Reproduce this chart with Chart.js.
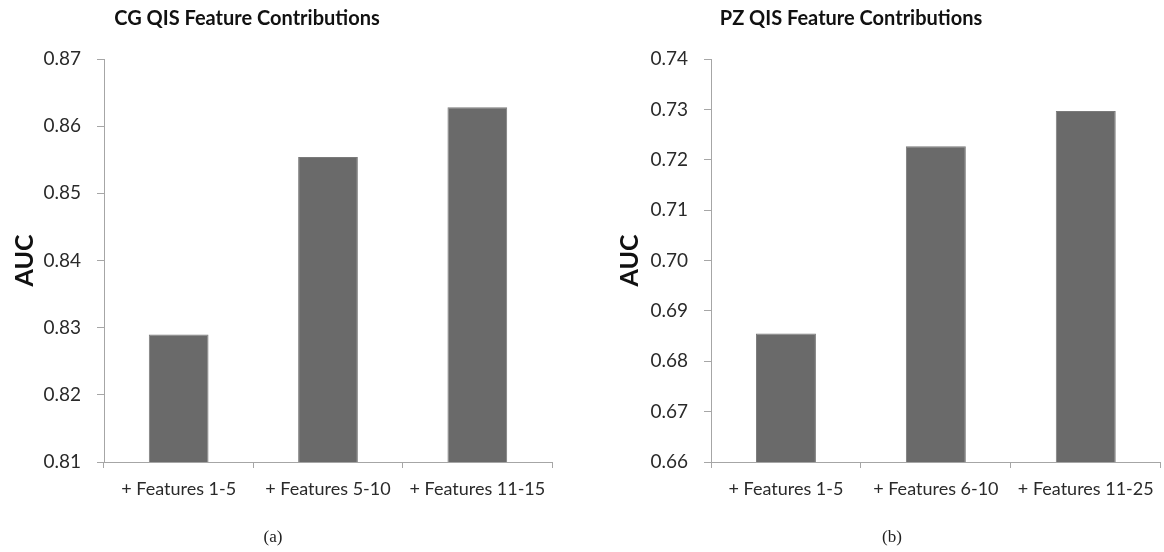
<!DOCTYPE html>
<html>
<head>
<meta charset="utf-8">
<script src="https://cdn.jsdelivr.net/npm/chart.js@4"></script>
<style>
  html, body { margin: 0; padding: 0; background: #fff; }
  #wrap { position: relative; width: 1164px; height: 552px; overflow: hidden; }
  canvas { position: absolute; top: 0; }
  .title { position: absolute; top: 5px; font: bold 20px Lato, sans-serif; color: #111; transform: translateX(-50%); white-space: nowrap; }
  .cap { position: absolute; top: 527px; font: 17px "Liberation Serif", serif; color: #222; transform: translateX(-50%); }
</style>
</head>
<body>
<div id="wrap">
  <canvas id="cg" width="580" height="552" style="left:0"></canvas>
  <canvas id="pz" width="584" height="552" style="left:580px"></canvas>
  <div class="title" style="left:247px">CG QIS Feature Contributions</div>
  <div class="title" style="left:851px">PZ QIS Feature Contributions</div>
  <div class="cap" style="left:273px">(a)</div>
  <div class="cap" style="left:892px">(b)</div>
</div>
<script>
// CG panel
const cgCategories = ['+ Features 1-5', '+ Features 5-10', '+ Features 11-15'];
const cgAuc = [0.829, 0.8554, 0.8628];
const cgAxis = { min: 0.81, max: 0.87, step: 0.01 };

// PZ panel
const pzCategories = ['+ Features 1-5', '+ Features 6-10', '+ Features 11-25'];
const pzAuc = [0.6855, 0.7227, 0.7297];
const pzAxis = { min: 0.66, max: 0.74, step: 0.01 };

const BAR = '#6a6a6a';
const AXIS = '#a6a6a6';
const TEXT = '#2a2a2a';

function makeChart(id, labels, values, axis, padLeft, yWidth, padRight) {
  return new Chart(document.getElementById(id), {
    type: 'bar',
    data: {
      labels: labels,
      datasets: [{
        data: values,
        backgroundColor: BAR,
        borderColor: '#7a7a7a',
        borderWidth: 1,
        categoryPercentage: 1,
        barPercentage: 0.4
      }]
    },
    options: {
      responsive: false,
      animation: false,
      devicePixelRatio: 1,
      layout: { padding: { left: padLeft, right: padRight, top: 59, bottom: 50 } },
      plugins: { legend: { display: false }, tooltip: { enabled: false } },
      scales: {
        x: {
          grid: { drawOnChartArea: false, drawTicks: true, tickLength: 6, color: AXIS, offset: true },
          border: { color: AXIS, width: 1 },
          ticks: { color: TEXT, font: { family: 'Lato', size: 18 }, padding: 10, maxRotation: 0, autoSkip: false },
          afterFit: s => { s.height = 40; }
        },
        y: {
          min: axis.min,
          max: axis.max,
          grid: { drawOnChartArea: false, drawTicks: true, tickLength: 7, color: AXIS },
          border: { color: AXIS, width: 1 },
          ticks: {
            stepSize: axis.step,
            color: TEXT,
            padding: 16,
            font: { family: 'Lato', size: 19 },
            callback: v => Number(v).toFixed(2)
          },
          title: {
            display: true,
            text: 'AUC',
            color: '#111',
            font: { family: 'Lato', size: 25, weight: 'bold', lineHeight: 1 },
            padding: { top: 12, bottom: 0 }
          },
          afterFit: s => { s.width = yWidth; }
        }
      }
    }
  });
}

makeChart('cg', cgCategories, cgAuc, cgAxis, 0, 104, 28);
makeChart('pz', pzCategories, pzAuc, pzAxis, 25, 106, 2);
</script>
</body>
</html>
